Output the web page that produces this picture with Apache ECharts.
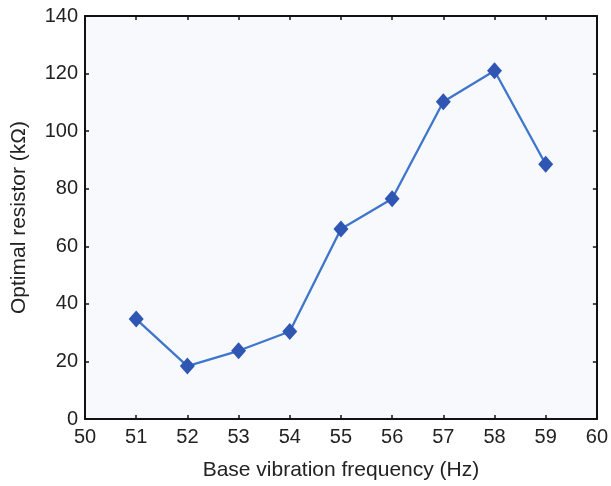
<!DOCTYPE html>
<html>
<head>
<meta charset="utf-8">
<script src="https://cdn.jsdelivr.net/npm/echarts@6/dist/echarts.min.js"></script>
<style>
  html, body { margin: 0; padding: 0; background: #ffffff; }
  #chart { width: 611px; height: 486px; }
</style>
</head>
<body>
<div id="chart"></div>
<script>
// Base vibration frequency (Hz) vs. optimal load resistance (kΩ)
const frequencies = [51, 52, 53, 54, 55, 56, 57, 58, 59];
const optimalResistance = [34.7, 18.4, 23.7, 30.4, 66.0, 76.5, 110.2, 121.0, 88.5];
const xTicks = [50, 51, 52, 53, 54, 55, 56, 57, 58, 59, 60];
const yTicks = [0, 20, 40, 60, 80, 100, 120, 140];

const points = frequencies.map((f, i) => [f, optimalResistance[i]]);

const font = 'Liberation Sans, Arial, Helvetica, sans-serif';
const textColor = '#222222';
const frameColor = '#111111';

const xRange = { min: xTicks[0], max: xTicks[xTicks.length - 1], interval: xTicks[1] - xTicks[0] };
const yRange = { min: yTicks[0], max: yTicks[yTicks.length - 1], interval: yTicks[1] - yTicks[0] };

const frameAxis = {
  axisLine: { show: true, onZero: false, lineStyle: { color: frameColor, width: 2 } },
  axisTick: { show: true, inside: true, length: 4, lineStyle: { color: frameColor, width: 1.5 } },
  splitLine: { show: false }
};

const chart = echarts.init(document.getElementById('chart'), null, { renderer: 'canvas' });
chart.setOption({
  animation: false,
  backgroundColor: '#ffffff',
  grid: {
    left: 85, top: 16, right: 13, bottom: 67,
    show: true, backgroundColor: '#f8f9fd', borderWidth: 0
  },
  xAxis: [
    Object.assign({
      type: 'value', position: 'bottom',
      name: 'Base vibration frequency (Hz)', nameLocation: 'middle', nameGap: 41,
      nameTextStyle: { fontFamily: font, fontSize: 21, color: textColor },
      axisLabel: { fontFamily: font, fontSize: 20, color: textColor, margin: 8 }
    }, xRange, frameAxis),
    Object.assign({
      type: 'value', position: 'top',
      axisLabel: { show: false }
    }, xRange, frameAxis)
  ],
  yAxis: [
    Object.assign({
      type: 'value', position: 'left',
      name: 'Optimal resistor (kΩ)', nameLocation: 'middle', nameGap: 55,
      nameTextStyle: { fontFamily: font, fontSize: 21, color: textColor },
      axisLabel: { fontFamily: font, fontSize: 20, color: textColor, margin: 7 }
    }, yRange, frameAxis),
    Object.assign({
      type: 'value', position: 'right',
      axisLabel: { show: false }
    }, yRange, frameAxis)
  ],
  series: [{
    type: 'line',
    data: points,
    xAxisIndex: 0,
    yAxisIndex: 0,
    symbol: 'diamond',
    symbolSize: [15, 17],
    lineStyle: { color: '#3d76cc', width: 2.3 },
    itemStyle: { color: '#2f56b3' }
  }]
});
</script>
</body>
</html>
